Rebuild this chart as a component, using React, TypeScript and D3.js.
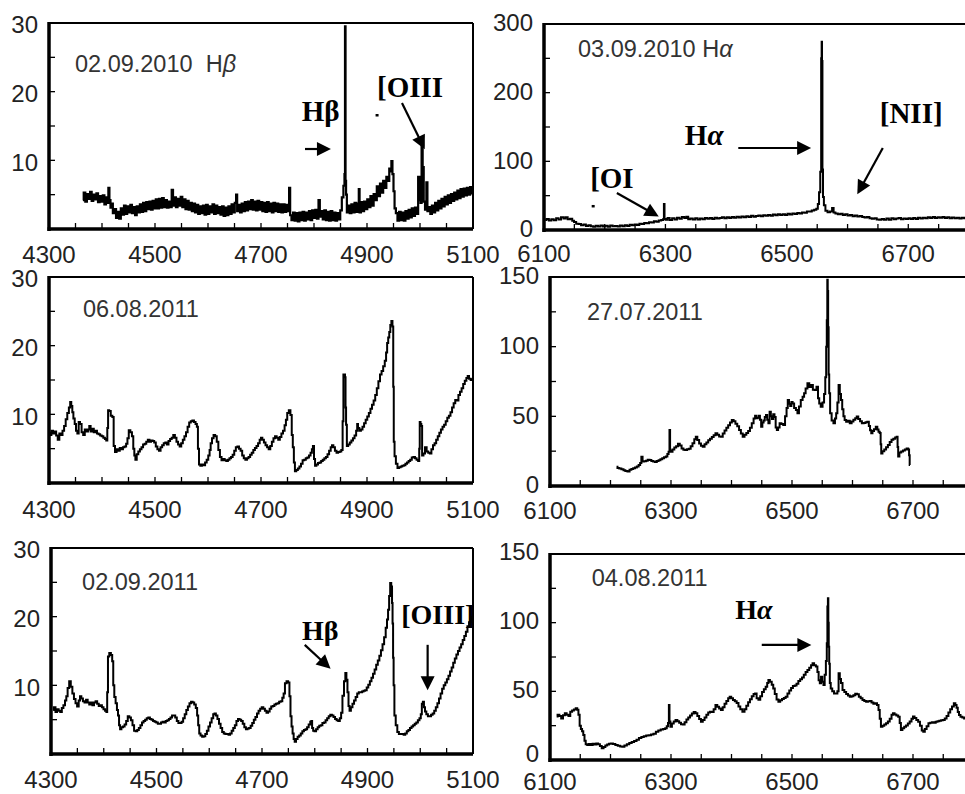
import React from 'react';
import * as d3 from 'd3';

// ---------------- data (wavelength Å, flux) ----------------
const spec1: [number, number][] = [[4364,4.2],[4367,5.3],[4370,4.0],[4373,5.1],[4376,4.4],[4379,5.4],[4382,4.1],[4385,5.0],[4388,4.3],[4391,5.2],[4394,3.9],[4397,4.8],[4400,4.0],[4403,4.9],[4406,3.6],[4409,4.6],[4411,3.8],[4413,6.0],[4415,4.2],[4417,3.1],[4419,3.7],[4422,2.3],[4425,2.9],[4428,1.6],[4431,2.5],[4434,1.5],[4437,3.0],[4440,2.1],[4443,3.4],[4446,2.2],[4449,3.3],[4452,2.4],[4455,3.5],[4458,2.3],[4461,3.2],[4464,2.0],[4467,3.3],[4470,2.4],[4473,3.6],[4476,2.5],[4479,3.8],[4482,2.6],[4485,3.9],[4488,2.9],[4491,4.0],[4494,2.8],[4497,4.1],[4500,3.0],[4503,4.3],[4506,3.0],[4509,4.4],[4512,3.1],[4515,4.5],[4518,3.2],[4521,4.2],[4524,3.1],[4527,4.0],[4530,3.2],[4533,5.7],[4535,3.4],[4538,4.6],[4541,3.2],[4544,4.4],[4547,3.4],[4550,4.7],[4553,3.2],[4556,4.3],[4559,2.9],[4562,4.1],[4565,2.8],[4568,3.8],[4571,2.6],[4574,3.7],[4577,2.4],[4580,3.5],[4583,2.2],[4586,3.3],[4589,2.3],[4592,3.4],[4595,2.1],[4598,3.5],[4601,2.2],[4604,3.3],[4607,2.4],[4610,3.6],[4613,2.2],[4616,3.4],[4619,2.3],[4622,3.2],[4625,2.1],[4628,3.3],[4631,1.9],[4634,3.1],[4637,2.0],[4640,3.3],[4643,2.2],[4646,3.6],[4649,2.4],[4652,3.8],[4654,5.0],[4656,2.6],[4659,3.5],[4662,2.4],[4665,3.7],[4668,2.6],[4671,3.9],[4674,2.7],[4677,4.0],[4680,2.9],[4683,4.2],[4686,2.8],[4689,4.0],[4692,2.7],[4695,4.1],[4698,2.8],[4701,3.9],[4704,2.6],[4707,3.8],[4710,2.5],[4713,3.9],[4716,2.6],[4719,3.7],[4722,2.4],[4725,3.8],[4728,2.6],[4731,3.7],[4734,2.5],[4737,3.6],[4740,2.4],[4743,3.6],[4746,2.5],[4749,3.5],[4752,2.6],[4754,6.0],[4756,2.0],[4759,1.3],[4762,2.4],[4765,1.2],[4768,2.3],[4771,1.1],[4774,2.4],[4777,1.3],[4780,2.5],[4783,1.2],[4786,2.4],[4789,1.4],[4792,2.6],[4795,1.3],[4798,2.7],[4801,1.6],[4804,2.8],[4807,1.5],[4810,4.2],[4812,1.8],[4815,2.6],[4818,1.4],[4821,2.7],[4824,1.3],[4827,2.5],[4830,1.2],[4833,2.6],[4836,1.3],[4839,2.4],[4842,1.2],[4845,2.3],[4848,1.4],[4851,2.7],[4854,4.6],[4857,6.3],[4858,8.0],[4859,29.5],[4860,7.0],[4861,5.0],[4863,2.4],[4866,3.4],[4869,2.3],[4872,3.6],[4875,2.4],[4878,3.8],[4881,2.5],[4884,3.7],[4885,5.8],[4887,2.4],[4890,3.9],[4893,2.6],[4896,4.0],[4899,2.9],[4902,4.3],[4905,3.2],[4908,4.8],[4911,3.4],[4914,5.1],[4917,4.2],[4920,6.2],[4923,4.8],[4926,6.6],[4929,5.3],[4932,7.0],[4935,6.0],[4938,7.6],[4941,7.0],[4943,8.8],[4945,8.4],[4947,9.9],[4949,8.0],[4951,5.5],[4953,3.0],[4956,2.3],[4959,1.2],[4962,2.5],[4965,1.3],[4968,2.4],[4971,1.2],[4974,2.6],[4977,1.5],[4980,2.8],[4983,1.7],[4986,3.0],[4989,1.9],[4992,3.1],[4995,2.2],[4998,7.6],[5000,4.2],[5002,3.8],[5004,12.3],[5006,9.0],[5008,4.0],[5011,2.8],[5013,6.8],[5015,2.6],[5018,3.2],[5021,2.2],[5024,3.4],[5027,2.4],[5030,3.8],[5033,2.7],[5036,4.1],[5039,3.0],[5042,4.4],[5045,3.3],[5048,4.7],[5051,3.6],[5054,4.9],[5057,3.8],[5060,5.1],[5063,4.1],[5066,5.3],[5069,4.3],[5072,5.6],[5075,4.5],[5078,5.8],[5081,4.7],[5084,5.9],[5087,4.9],[5090,6.0],[5093,5.0],[5096,6.1],[5099,5.2]];

const spec2: [number, number][] = [[6102,14.6],[6106,16.2],[6110,13.8],[6114,15.6],[6118,14.2],[6122,17.0],[6126,15.3],[6130,18.4],[6134,16.6],[6137,18.4],[6141,15.8],[6145,16.4],[6148,13.6],[6151,11.5],[6155,9.2],[6159,8.6],[6163,7.0],[6167,8.0],[6171,5.8],[6175,6.9],[6179,5.3],[6183,4.6],[6187,6.1],[6191,5.0],[6195,6.4],[6199,5.2],[6203,6.3],[6207,4.8],[6211,6.6],[6215,5.4],[6219,6.0],[6223,5.1],[6227,6.6],[6231,5.6],[6235,6.9],[6239,6.0],[6243,7.8],[6247,6.9],[6251,8.1],[6255,7.2],[6259,9.0],[6263,8.6],[6267,10.2],[6271,10.0],[6275,11.4],[6279,10.8],[6283,12.6],[6287,12.0],[6291,13.8],[6295,14.6],[6297,15.5],[6298,38.0],[6299,16.0],[6302,14.8],[6305,17.4],[6309,14.5],[6313,17.0],[6317,15.2],[6321,17.8],[6325,16.4],[6329,19.0],[6333,17.6],[6336,19.4],[6339,15.5],[6343,16.6],[6347,15.4],[6351,17.0],[6355,15.2],[6359,16.9],[6363,15.6],[6367,17.6],[6371,16.4],[6375,17.5],[6379,16.0],[6383,18.0],[6387,16.9],[6391,17.6],[6395,18.4],[6399,17.0],[6403,18.6],[6407,17.5],[6411,18.8],[6415,17.8],[6419,19.4],[6423,18.3],[6427,19.6],[6431,18.6],[6435,20.0],[6439,18.8],[6443,20.6],[6447,19.4],[6451,20.3],[6455,21.2],[6459,19.9],[6463,21.6],[6467,20.8],[6471,21.9],[6475,20.8],[6479,22.4],[6483,21.3],[6487,22.8],[6491,21.8],[6495,23.1],[6499,22.0],[6503,23.6],[6507,22.6],[6511,24.0],[6515,23.2],[6519,24.6],[6523,24.0],[6527,25.6],[6531,25.0],[6535,26.8],[6539,27.0],[6543,28.5],[6547,29.5],[6550,31.0],[6552,38.0],[6554,55.0],[6556,85.0],[6557,250.0],[6557.6,274.0],[6558.2,246.0],[6559,88.0],[6560,48.0],[6562,36.0],[6565,28.0],[6569,26.0],[6573,27.0],[6576,32.0],[6578,25.5],[6582,24.2],[6586,23.0],[6590,23.5],[6594,21.8],[6598,22.8],[6602,21.2],[6606,22.0],[6610,20.2],[6614,21.2],[6618,19.6],[6622,20.4],[6626,19.0],[6630,18.2],[6634,18.8],[6638,17.0],[6642,16.4],[6646,17.0],[6650,15.4],[6654,15.0],[6658,16.2],[6662,14.8],[6666,16.6],[6670,15.1],[6674,17.0],[6678,15.6],[6682,16.8],[6686,17.4],[6690,15.8],[6694,16.9],[6698,15.9],[6702,17.2],[6706,16.2],[6710,17.4],[6714,16.0],[6718,17.8],[6722,16.8],[6726,18.0],[6730,17.0],[6734,18.4],[6738,17.4],[6742,18.8],[6746,17.6],[6750,18.6],[6754,17.8],[6758,18.9],[6762,17.6],[6766,18.4],[6770,17.2],[6774,18.3],[6778,17.0],[6782,17.9],[6786,16.9],[6790,17.8],[6794,17.0],[6800,17.4]];

const spec3: [number, number][] = [[4300,7.3],[4303,7.0],[4306,7.6],[4309,7.2],[4312,7.5],[4315,6.9],[4318,6.3],[4321,7.2],[4324,7.0],[4327,7.6],[4330,8.3],[4333,9.3],[4336,10.2],[4339,11.0],[4341,11.8],[4343,11.2],[4345,10.3],[4347,9.4],[4350,8.6],[4352,7.6],[4355,7.2],[4357,8.9],[4360,8.6],[4363,7.4],[4366,7.0],[4369,7.8],[4372,7.5],[4375,7.8],[4377,8.3],[4380,7.5],[4383,7.9],[4386,7.4],[4389,7.6],[4392,7.2],[4395,7.1],[4398,6.9],[4401,6.8],[4404,6.6],[4407,6.4],[4409,6.2],[4411,8.0],[4412,10.6],[4415,10.5],[4418,9.8],[4421,9.6],[4423,5.4],[4426,4.5],[4429,4.9],[4432,4.7],[4435,5.1],[4438,4.9],[4441,5.2],[4444,5.3],[4447,5.7],[4449,6.5],[4452,7.7],[4455,7.4],[4458,6.8],[4460,5.0],[4462,4.0],[4464,3.4],[4467,4.2],[4470,4.6],[4473,4.9],[4476,5.2],[4479,5.6],[4482,5.7],[4485,6.0],[4488,6.3],[4491,6.0],[4494,6.2],[4497,6.1],[4500,5.9],[4503,5.3],[4506,4.9],[4509,4.7],[4512,5.2],[4515,5.5],[4518,5.8],[4521,5.9],[4524,5.6],[4527,6.1],[4530,6.4],[4533,6.6],[4536,7.0],[4539,6.6],[4542,6.0],[4545,5.6],[4548,5.3],[4551,5.8],[4554,6.3],[4557,6.8],[4560,7.4],[4563,8.2],[4566,8.8],[4569,9.0],[4572,9.1],[4575,8.9],[4578,8.6],[4580,8.2],[4582,5.0],[4584,2.7],[4587,2.5],[4590,2.7],[4593,2.6],[4596,3.0],[4599,3.4],[4602,4.0],[4604,4.8],[4606,5.8],[4609,6.5],[4612,7.0],[4615,6.8],[4618,6.0],[4621,4.8],[4624,3.8],[4627,3.3],[4630,3.5],[4633,3.3],[4636,3.2],[4639,3.4],[4642,3.6],[4645,3.8],[4648,4.1],[4651,4.7],[4654,5.2],[4657,5.3],[4660,5.0],[4663,4.7],[4666,4.0],[4669,3.6],[4672,3.4],[4675,3.6],[4678,3.8],[4681,4.1],[4684,4.4],[4687,4.8],[4690,5.1],[4693,5.4],[4696,5.8],[4699,6.3],[4701,6.6],[4704,6.3],[4707,5.9],[4710,5.5],[4713,5.2],[4716,4.9],[4719,5.4],[4722,6.0],[4725,6.5],[4728,6.8],[4731,6.6],[4734,6.3],[4737,6.7],[4740,7.2],[4743,7.6],[4746,8.4],[4748,9.2],[4751,10.2],[4754,10.6],[4757,9.9],[4759,7.0],[4761,5.2],[4763,3.0],[4765,1.7],[4768,1.9],[4771,2.1],[4774,2.4],[4777,2.8],[4780,3.3],[4783,3.4],[4786,3.6],[4789,3.7],[4792,4.0],[4795,4.4],[4797,4.9],[4799,5.4],[4801,3.5],[4803,2.5],[4806,2.7],[4809,2.9],[4812,3.0],[4815,3.2],[4818,3.4],[4821,3.6],[4824,3.8],[4827,4.2],[4830,4.7],[4833,5.2],[4835,5.5],[4838,5.2],[4841,4.7],[4844,4.4],[4847,4.5],[4850,4.6],[4853,4.8],[4855,9.0],[4856,15.8],[4858,15.8],[4859,15.4],[4860,11.0],[4861,8.5],[4863,5.4],[4866,5.6],[4869,5.9],[4872,6.2],[4875,6.5],[4878,6.9],[4881,7.6],[4882,8.6],[4884,8.0],[4887,7.6],[4890,7.8],[4893,8.2],[4896,8.7],[4899,9.2],[4902,9.7],[4905,10.2],[4908,10.8],[4911,11.4],[4914,12.0],[4917,12.8],[4920,13.8],[4923,14.8],[4926,15.8],[4929,16.3],[4932,17.0],[4935,17.8],[4937,19.0],[4939,20.4],[4941,21.2],[4943,22.0],[4945,23.0],[4947,23.6],[4949,22.8],[4950,14.0],[4951,6.0],[4953,3.9],[4956,2.8],[4959,2.2],[4962,2.3],[4965,2.4],[4968,2.5],[4971,2.6],[4974,2.8],[4977,3.0],[4980,3.2],[4983,3.4],[4986,3.7],[4989,3.8],[4992,3.6],[4995,3.4],[4998,3.2],[4999,5.0],[5000,8.9],[5002,8.6],[5003,8.3],[5005,4.0],[5008,4.3],[5011,5.2],[5014,4.6],[5017,4.4],[5020,4.3],[5023,4.9],[5026,5.5],[5029,5.8],[5032,6.3],[5035,6.8],[5038,7.3],[5041,7.8],[5044,8.2],[5047,8.5],[5050,9.0],[5053,9.5],[5056,9.8],[5059,10.3],[5062,11.0],[5065,11.6],[5068,12.1],[5071,12.0],[5074,12.8],[5077,13.3],[5080,13.8],[5083,14.4],[5086,14.9],[5089,15.3],[5091,15.6],[5094,15.2],[5097,15.0],[5100,15.1]];

const spec4: [number, number][] = [[6210,13.9],[6213,13.0],[6216,12.6],[6220,12.0],[6223,11.3],[6226,10.8],[6230,10.4],[6233,11.6],[6236,12.2],[6239,12.7],[6242,13.2],[6245,14.0],[6248,15.1],[6250,16.5],[6252,21.0],[6254,17.5],[6257,17.8],[6260,18.2],[6263,18.9],[6266,18.7],[6269,18.0],[6272,17.6],[6275,17.3],[6278,18.0],[6281,18.5],[6284,19.2],[6287,20.0],[6290,20.6],[6293,21.1],[6295,23.0],[6297,24.5],[6298,40.2],[6299,25.5],[6301,24.6],[6304,26.2],[6307,27.6],[6310,28.6],[6313,30.4],[6316,29.0],[6319,27.0],[6322,26.0],[6325,25.8],[6328,26.3],[6331,26.8],[6334,28.5],[6337,30.6],[6340,33.5],[6342,35.4],[6345,33.0],[6348,30.5],[6351,28.8],[6354,28.2],[6357,30.0],[6360,31.2],[6363,32.8],[6366,34.0],[6369,35.2],[6372,36.5],[6375,37.8],[6378,36.8],[6381,35.6],[6384,35.4],[6387,37.6],[6390,39.8],[6393,41.8],[6396,43.6],[6399,45.6],[6402,47.4],[6405,46.5],[6408,44.6],[6411,42.8],[6414,40.2],[6417,37.6],[6420,35.4],[6423,36.8],[6426,38.0],[6429,39.5],[6432,41.8],[6435,45.0],[6438,48.5],[6440,50.4],[6442,48.6],[6444,49.0],[6446,50.4],[6448,47.5],[6450,42.6],[6452,45.5],[6454,47.0],[6456,49.5],[6458,51.0],[6460,47.5],[6462,45.0],[6464,53.3],[6466,50.0],[6468,48.0],[6470,51.5],[6472,49.5],[6474,42.0],[6476,40.2],[6478,42.0],[6481,45.0],[6484,44.5],[6487,43.8],[6490,50.0],[6492,56.0],[6494,61.7],[6496,59.0],[6498,57.5],[6500,60.2],[6502,59.3],[6505,56.0],[6508,54.5],[6510,52.2],[6513,57.0],[6516,61.7],[6519,64.0],[6521,66.5],[6524,70.0],[6527,73.7],[6530,71.0],[6533,72.5],[6536,69.0],[6539,68.9],[6542,71.3],[6544,63.0],[6546,59.3],[6549,56.9],[6552,60.0],[6554,66.0],[6556,78.0],[6557,100.0],[6558,119.0],[6558.7,148.0],[6559.4,140.0],[6560.1,114.0],[6561,80.0],[6562,66.5],[6564,52.2],[6567,47.0],[6570,45.0],[6572,48.5],[6574,52.2],[6576,60.0],[6578,72.5],[6580,66.0],[6582,61.7],[6584,55.0],[6586,50.0],[6588,47.4],[6591,46.2],[6594,46.8],[6597,45.0],[6600,46.3],[6603,47.5],[6606,48.6],[6608,49.8],[6611,48.0],[6614,46.5],[6617,45.0],[6620,45.2],[6623,45.8],[6626,46.2],[6628,43.0],[6630,40.0],[6632,37.8],[6634,39.4],[6637,40.8],[6640,42.6],[6642,40.6],[6644,39.0],[6646,38.0],[6647,30.0],[6648,23.4],[6651,25.0],[6654,26.2],[6657,27.8],[6660,29.5],[6663,31.5],[6666,33.2],[6669,34.0],[6672,34.8],[6674,35.4],[6675,28.0],[6676,21.1],[6679,24.0],[6682,24.8],[6685,25.5],[6688,26.2],[6691,27.0],[6693,26.2],[6694,22.0],[6695,15.1]];

const spec5: [number, number][] = [[4304,6.4],[4307,6.8],[4310,6.1],[4313,6.5],[4316,6.3],[4319,6.1],[4322,6.7],[4325,7.1],[4328,7.8],[4330,8.4],[4333,9.6],[4336,10.6],[4339,9.8],[4342,8.8],[4345,8.0],[4348,7.4],[4351,6.9],[4354,7.8],[4356,8.4],[4359,8.1],[4362,7.7],[4365,7.5],[4368,7.9],[4371,7.5],[4374,7.2],[4377,7.5],[4380,7.1],[4383,7.5],[4386,7.7],[4389,7.3],[4392,7.0],[4395,7.1],[4398,6.8],[4401,6.5],[4404,6.3],[4406,6.1],[4407,9.0],[4409,14.2],[4412,14.7],[4415,14.4],[4417,13.5],[4419,10.0],[4421,8.3],[4424,7.4],[4426,6.4],[4428,5.6],[4430,4.2],[4432,3.6],[4435,3.9],[4438,4.0],[4441,4.3],[4444,4.8],[4447,5.5],[4450,5.3],[4453,4.9],[4456,4.2],[4459,3.4],[4462,3.3],[4465,3.5],[4468,3.8],[4471,4.2],[4474,4.6],[4477,4.8],[4480,5.0],[4483,5.2],[4486,5.3],[4489,5.1],[4492,5.0],[4495,4.8],[4498,4.7],[4501,4.6],[4504,4.4],[4507,4.4],[4510,4.6],[4513,4.7],[4516,4.6],[4519,4.8],[4522,4.9],[4525,5.1],[4528,5.3],[4531,5.6],[4534,5.6],[4537,5.3],[4540,4.8],[4543,4.5],[4546,4.5],[4549,4.7],[4552,5.2],[4555,5.8],[4558,6.4],[4561,6.9],[4564,7.4],[4567,7.6],[4570,7.5],[4573,7.2],[4576,6.7],[4578,5.6],[4580,4.2],[4582,3.0],[4585,2.7],[4588,2.5],[4591,2.6],[4594,2.9],[4597,3.4],[4600,4.0],[4603,4.6],[4606,5.2],[4609,5.8],[4611,5.9],[4614,5.6],[4617,5.1],[4620,4.4],[4623,3.8],[4626,3.2],[4629,3.0],[4632,2.9],[4635,2.9],[4638,2.8],[4641,3.0],[4644,3.4],[4647,3.8],[4650,4.2],[4653,4.8],[4656,5.1],[4659,5.0],[4662,4.8],[4665,4.4],[4668,3.9],[4671,3.6],[4674,3.7],[4677,3.8],[4680,4.1],[4683,4.5],[4686,5.0],[4689,5.4],[4692,5.9],[4695,6.3],[4698,6.6],[4701,6.8],[4704,6.6],[4707,6.3],[4710,6.0],[4713,6.2],[4716,6.6],[4719,6.9],[4722,7.0],[4725,7.2],[4728,7.3],[4731,7.4],[4734,7.6],[4737,7.7],[4740,8.2],[4742,8.8],[4745,10.3],[4748,10.6],[4751,10.4],[4753,8.4],[4755,5.5],[4757,4.0],[4759,3.0],[4761,2.2],[4763,1.8],[4766,2.2],[4769,2.5],[4772,2.7],[4775,3.0],[4778,3.3],[4781,3.5],[4784,3.6],[4787,3.9],[4790,4.3],[4793,4.7],[4794,4.8],[4796,3.8],[4798,3.4],[4801,3.3],[4804,3.6],[4807,3.9],[4810,4.1],[4813,4.2],[4816,4.5],[4819,4.6],[4822,4.9],[4825,5.2],[4828,5.5],[4831,5.7],[4834,5.6],[4837,5.4],[4840,5.1],[4843,4.9],[4846,4.8],[4849,5.2],[4851,6.0],[4854,8.5],[4857,10.6],[4859,11.8],[4861,10.8],[4863,9.0],[4865,7.0],[4867,6.3],[4870,6.8],[4873,7.3],[4876,7.8],[4879,8.3],[4882,8.8],[4885,9.0],[4888,9.0],[4891,9.1],[4894,9.2],[4897,9.3],[4900,9.7],[4903,10.1],[4906,10.6],[4909,11.1],[4912,11.7],[4915,12.3],[4918,13.0],[4921,13.6],[4924,14.3],[4927,15.1],[4930,16.0],[4933,17.0],[4936,18.4],[4938,19.6],[4940,21.0],[4942,23.0],[4944,24.9],[4946,24.4],[4947,22.0],[4948,19.0],[4949,14.0],[4950,10.0],[4952,5.6],[4955,4.2],[4958,3.2],[4961,2.9],[4964,2.9],[4967,2.9],[4970,2.8],[4973,3.0],[4976,3.3],[4979,3.5],[4982,3.8],[4985,4.0],[4988,4.2],[4991,4.4],[4994,4.6],[4997,4.9],[5000,5.2],[5002,5.8],[5004,7.3],[5006,7.6],[5008,6.8],[5010,6.2],[5013,5.8],[5016,5.5],[5019,5.5],[5022,5.7],[5025,5.9],[5028,6.3],[5031,6.8],[5034,7.4],[5037,8.1],[5040,8.8],[5043,9.5],[5046,10.0],[5049,10.4],[5052,10.9],[5055,11.4],[5058,12.0],[5061,12.6],[5064,13.3],[5067,13.9],[5070,14.5],[5073,15.0],[5076,15.5],[5079,16.0],[5082,16.6],[5085,17.2],[5088,17.8],[5091,18.6],[5094,19.2],[5097,19.7],[5100,20.0]];

const spec6: [number, number][] = [[6111,31.6],[6114,33.0],[6117,32.0],[6120,30.3],[6123,32.5],[6126,34.0],[6129,33.0],[6132,32.0],[6135,35.2],[6138,36.0],[6141,36.8],[6144,37.6],[6146,36.5],[6148,33.0],[6150,25.0],[6152,22.5],[6154,21.0],[6156,18.2],[6158,14.0],[6160,11.5],[6163,10.9],[6166,11.6],[6169,10.9],[6172,11.8],[6175,11.2],[6178,12.1],[6181,11.5],[6184,10.2],[6187,8.5],[6190,9.4],[6193,10.5],[6196,11.2],[6199,11.8],[6202,12.1],[6206,11.6],[6210,11.0],[6214,10.4],[6218,9.9],[6221,9.7],[6225,10.6],[6229,11.4],[6233,12.3],[6237,13.1],[6241,13.8],[6245,14.8],[6249,16.0],[6253,16.8],[6257,17.3],[6261,17.8],[6265,18.1],[6269,18.5],[6273,19.2],[6277,20.5],[6281,21.5],[6285,22.2],[6289,22.6],[6292,23.1],[6294,24.5],[6296,27.0],[6297,40.0],[6298,28.0],[6300,24.3],[6303,26.5],[6306,28.0],[6309,29.1],[6312,28.3],[6315,27.2],[6318,26.0],[6321,25.8],[6324,27.5],[6327,29.5],[6330,31.0],[6333,32.4],[6336,33.8],[6339,35.0],[6342,34.0],[6345,32.0],[6348,29.8],[6351,27.9],[6354,29.2],[6357,31.0],[6360,33.0],[6363,34.5],[6366,35.2],[6369,35.0],[6372,37.0],[6375,40.0],[6378,38.8],[6381,37.5],[6384,36.4],[6387,38.5],[6390,41.0],[6393,43.0],[6396,45.0],[6398,46.1],[6401,45.0],[6404,43.6],[6407,42.8],[6410,41.5],[6413,39.0],[6416,37.0],[6420,35.2],[6423,37.0],[6426,39.5],[6429,42.0],[6432,44.2],[6435,46.5],[6438,48.0],[6440,48.5],[6443,45.0],[6446,43.8],[6449,46.5],[6452,49.6],[6455,51.5],[6458,53.4],[6460,56.0],[6462,58.3],[6465,57.0],[6468,54.8],[6470,52.0],[6473,48.0],[6476,44.0],[6479,42.5],[6482,43.5],[6485,44.5],[6488,45.2],[6491,46.1],[6494,48.5],[6497,50.6],[6500,52.5],[6503,53.8],[6506,54.2],[6509,55.6],[6512,57.5],[6515,58.8],[6518,60.0],[6521,62.0],[6524,64.0],[6527,65.5],[6530,67.2],[6533,69.0],[6535,70.4],[6538,69.0],[6541,68.0],[6543,64.0],[6545,58.0],[6547,55.8],[6549,60.7],[6551,57.0],[6553,54.6],[6555,62.0],[6557,72.0],[6558,85.0],[6559,111.7],[6559.7,117.7],[6560.4,100.0],[6561,82.5],[6562,70.0],[6563,56.0],[6565,52.0],[6568,50.0],[6571,48.5],[6574,48.5],[6576,50.0],[6578,63.1],[6580,59.0],[6582,56.0],[6585,51.0],[6588,49.5],[6591,48.0],[6594,47.0],[6597,46.1],[6600,46.5],[6603,47.2],[6606,48.2],[6609,47.8],[6612,46.0],[6615,45.0],[6618,43.7],[6621,43.0],[6624,42.5],[6627,42.8],[6630,43.0],[6633,41.8],[6636,41.0],[6639,41.3],[6642,40.0],[6644,36.4],[6646,30.0],[6648,24.3],[6651,25.0],[6654,25.8],[6657,26.7],[6660,28.0],[6663,30.0],[6666,33.0],[6668,34.0],[6671,33.2],[6674,32.4],[6677,31.5],[6679,27.0],[6681,21.8],[6684,23.2],[6687,24.3],[6690,25.2],[6693,26.5],[6696,28.0],[6699,30.0],[6701,31.6],[6704,30.6],[6707,29.2],[6710,27.9],[6713,25.0],[6716,21.5],[6718,20.6],[6721,22.5],[6724,24.5],[6727,26.7],[6730,27.2],[6733,27.5],[6736,27.2],[6739,27.9],[6742,28.2],[6745,28.5],[6748,28.9],[6751,29.1],[6754,30.2],[6757,32.0],[6760,34.5],[6763,37.0],[6766,39.0],[6769,41.3],[6771,40.0],[6773,38.0],[6775,35.0],[6777,32.8],[6780,31.5],[6783,31.0],[6786,30.3],[6790,31.2],[6795,31.5],[6800,30.0]];

// tick labels
const blueTicks = [4300, 4500, 4700, 4900, 5100];
const redTicks = [6100, 6300, 6500, 6700];
const fluxTicksBlue = [10, 20, 30];
const fluxTicksHa2010 = [0, 100, 200, 300];
const fluxTicksHa2011 = [0, 50, 100, 150];

// panel titles
const titles = ['02.09.2010  H', '03.09.2010 H', '06.08.2011', '27.07.2011', '02.09.2011', '04.08.2011'];
const titleGreek = ['β', 'α', '', '', '', ''];

// annotations in data units
type Ann =
  | { kind: 'label'; x: number; y: number; text: string; size: number; tail?: string }
  | { kind: 'arrow'; x1: number; y1: number; x2: number; y2: number };

const ann1: Ann[] = [
  { kind: 'label', x: 4777, y: 15.7, text: 'Hβ', size: 29 },
  { kind: 'arrow', x1: 4783, y1: 11.65, x2: 4832, y2: 11.65 },
  { kind: 'label', x: 4919, y: 19.2, text: '[OIII', size: 29 },
  { kind: 'arrow', x1: 4966, y1: 18.35, x2: 5009, y2: 11.6 },
];
const ann2: Ann[] = [
  { kind: 'label', x: 6176, y: 61, text: '[OI', size: 29 },
  { kind: 'arrow', x1: 6220, y1: 54, x2: 6289, y2: 19.5 },
  { kind: 'label', x: 6332, y: 124, text: 'H', tail: 'α', size: 29 },
  { kind: 'arrow', x1: 6420, y1: 119.4, x2: 6540, y2: 119.4 },
  { kind: 'label', x: 6653, y: 156, text: '[NII]', size: 29 },
  { kind: 'arrow', x1: 6658, y1: 119.4, x2: 6616, y2: 52 },
];
const ann5: Ann[] = [
  { kind: 'label', x: 4776, y: 16.6, text: 'Hβ', size: 28 },
  { kind: 'arrow', x1: 4781, y1: 15.9, x2: 4830, y2: 12.4 },
  { kind: 'label', x: 4964, y: 18.9, text: '[OIII]', size: 28 },
  { kind: 'arrow', x1: 5014, y1: 15.9, x2: 5014, y2: 9.3 },
];
const ann6: Ann[] = [
  { kind: 'label', x: 6406, y: 103, text: 'H', tail: 'α', size: 28 },
  { kind: 'arrow', x1: 6450, y1: 83.8, x2: 6532, y2: 83.8 },
];

// ---------------- layout ----------------
type Panel = {
  data: [number, number][];
  xDom: [number, number];
  yDom: [number, number];
  x0: number; x1: number; y0: number; y1: number;
  xLabels: number[]; yLabels: number[];
  xMinor: number; yMinor: number;
  xLabelDy: number;
  yLabelDy: number;
  zeroDy?: number;
  title: number;
  titlePos: [number, number];
  anns: Ann[];
  marks?: [number, number][];
  sw: number;
};

const panels: Panel[] = [
  { data: spec1, xDom: [4300, 5100], yDom: [0, 30], x0: 49, x1: 473, y0: 229, y1: 23, xLabels: blueTicks, yLabels: fluxTicksBlue, xMinor: 50, yMinor: 5, xLabelDy: 34, yLabelDy: 2, title: 0, titlePos: [4349, 22.9], anns: ann1, marks: [[4919, 16.6]], sw: 2.2 },
  { data: spec2, xDom: [6100, 6800], yDom: [0, 300], x0: 544, x1: 969, y0: 230, y1: 24, xLabels: redTicks, yLabels: fluxTicksHa2010, xMinor: 50, yMinor: 50, xLabelDy: 32, yLabelDy: -1, title: 1, titlePos: [6156, 252], anns: ann2, marks: [[6181, 35]], sw: 2 },
  { data: spec3, xDom: [4300, 5100], yDom: [0, 30], x0: 49, x1: 473, y0: 483, y1: 277, xLabels: blueTicks, yLabels: fluxTicksBlue, xMinor: 50, yMinor: 5, xLabelDy: 35, yLabelDy: 2, title: 2, titlePos: [4364, 24.2], anns: [], sw: 2 },
  { data: spec4, xDom: [6100, 6800], yDom: [0, 150], x0: 550, x1: 973.5, y0: 486, y1: 277, xLabels: redTicks, yLabels: fluxTicksHa2011, xMinor: 50, yMinor: 25, xLabelDy: 33, yLabelDy: -1, title: 3, titlePos: [6161, 119], anns: [], sw: 2 },
  { data: spec5, xDom: [4300, 5100], yDom: [0, 30], x0: 51, x1: 473, y0: 754, y1: 548, xLabels: blueTicks, yLabels: fluxTicksBlue, xMinor: 50, yMinor: 5, xLabelDy: 34, yLabelDy: 2, title: 4, titlePos: [4359, 23.9], anns: ann5, sw: 2 },
  { data: spec6, xDom: [6100, 6800], yDom: [0, 150], x0: 550, x1: 973.5, y0: 760, y1: 554, xLabels: redTicks, yLabels: fluxTicksHa2011, xMinor: 50, yMinor: 25, xLabelDy: 29.5, yLabelDy: -2, zeroDy: -4, title: 5, titlePos: [6169, 127], anns: ann6, sw: 2 },
];

const SANS = '"Liberation Sans", Arial, Helvetica, sans-serif';
const SERIF = '"Liberation Serif", "Times New Roman", Times, serif';
const TXT = '#222';

function Arrow({ x1, y1, x2, y2 }: { x1: number; y1: number; x2: number; y2: number }) {
  const dx = x2 - x1, dy = y2 - y1;
  const len = Math.hypot(dx, dy);
  const ux = dx / len, uy = dy / len;
  const L = 14, W = 7;
  const bx = x2 - ux * L, by = y2 - uy * L;
  const pts = [
    [x2, y2],
    [bx - uy * W, by + ux * W],
    [bx + uy * W, by - ux * W],
  ].map((p) => p.join(',')).join(' ');
  return (
    <g>
      <line x1={x1} y1={y1} x2={bx + ux} y2={by + uy} stroke="#000" strokeWidth={2.2} />
      <polygon points={pts} fill="#000" />
    </g>
  );
}

function PanelView({ p }: { p: Panel }) {
  const xs = d3.scaleLinear().domain(p.xDom).range([p.x0, p.x1]);
  const ys = d3.scaleLinear().domain(p.yDom).range([p.y0, p.y1]);
  const line = d3.line<[number, number]>().x((d) => xs(d[0])).y((d) => ys(d[1])).curve(d3.curveStep);
  const xMinorTicks = d3.range(p.xDom[0] + p.xMinor, p.xDom[1], p.xMinor);
  const yMinorTicks = d3.range(p.yDom[0] + p.yMinor, p.yDom[1], p.yMinor);
  const tp = p.titlePos;
  return (
    <g>
      {/* spectrum */}
      <path d={line(p.data) || ''} fill="none" stroke="#000" strokeWidth={p.sw} strokeLinejoin="miter" />
      {/* frame */}
      <line x1={p.x0} x2={p.x1} y1={p.y1} y2={p.y1} stroke="#000" strokeWidth={2} />
      <line x1={p.x1} x2={p.x1} y1={p.y1} y2={p.y0} stroke="#000" strokeWidth={2} />
      <line x1={p.x0} x2={p.x0} y1={p.y1 - 1} y2={p.y0 + 2} stroke="#000" strokeWidth={3.5} />
      <line x1={p.x0 - 1.5} x2={p.x1} y1={p.y0} y2={p.y0} stroke="#000" strokeWidth={3.5} />
      {xMinorTicks.map((t) => (
        <line key={'xt' + t} x1={xs(t)} x2={xs(t)} y1={p.y0} y2={p.y0 - 6} stroke="#000" strokeWidth={1.3} />
      ))}
      {yMinorTicks.map((t) => (
        <line key={'yt' + t} x1={p.x0} x2={p.x0 + 6} y1={ys(t)} y2={ys(t)} stroke="#000" strokeWidth={1.3} />
      ))}
      {/* tick labels */}
      {p.xLabels.map((t) => (
        <text key={'xl' + t} x={xs(t)} y={p.y0 + p.xLabelDy} textAnchor="middle" fontFamily={SANS} fontSize={24} fill={TXT}>
          {t}
        </text>
      ))}
      {p.yLabels.map((t) => (
        <text key={'yl' + t} x={p.x0 - 11} y={ys(t) + p.yLabelDy + (t === 0 ? p.zeroDy || 0 : 0)} dy="0.35em" textAnchor="end" fontFamily={SANS} fontSize={24} fill={TXT}>
          {t}
        </text>
      ))}
      {/* title */}
      <text x={xs(tp[0])} y={ys(tp[1])} fontFamily={SANS} fontSize={23.5} fill="#333" style={{ whiteSpace: 'pre' }}>
        {titles[p.title]}
        {titleGreek[p.title] ? <tspan fontStyle="italic">{titleGreek[p.title]}</tspan> : null}
      </text>
      {/* annotations */}
      {p.anns.map((a, i) =>
        a.kind === 'label' ? (
          <text key={'a' + i} x={xs(a.x)} y={ys(a.y)} fontFamily={SERIF} fontWeight="bold" fontSize={a.size} fill="#000">
            {a.text}
            {a.tail ? <tspan fontStyle="italic">{a.tail}</tspan> : null}
          </text>
        ) : (
          <Arrow key={'a' + i} x1={xs(a.x1)} y1={ys(a.y1)} x2={xs(a.x2)} y2={ys(a.y2)} />
        )
      )}
      {(p.marks || []).map((m, i) => (
        <rect key={'m' + i} x={xs(m[0]) - 1.5} y={ys(m[1]) - 1} width={3} height={2.5} fill="#000" />
      ))}
    </g>
  );
}

export default function App() {
  return (
    <svg width={965} height={794} style={{ position: 'absolute', left: 0, top: 0, background: '#fff' }}>
      <rect x={0} y={0} width={965} height={794} fill="#fff" />
      {panels.map((p, i) => (
        <PanelView key={i} p={p} />
      ))}
    </svg>
  );
}
